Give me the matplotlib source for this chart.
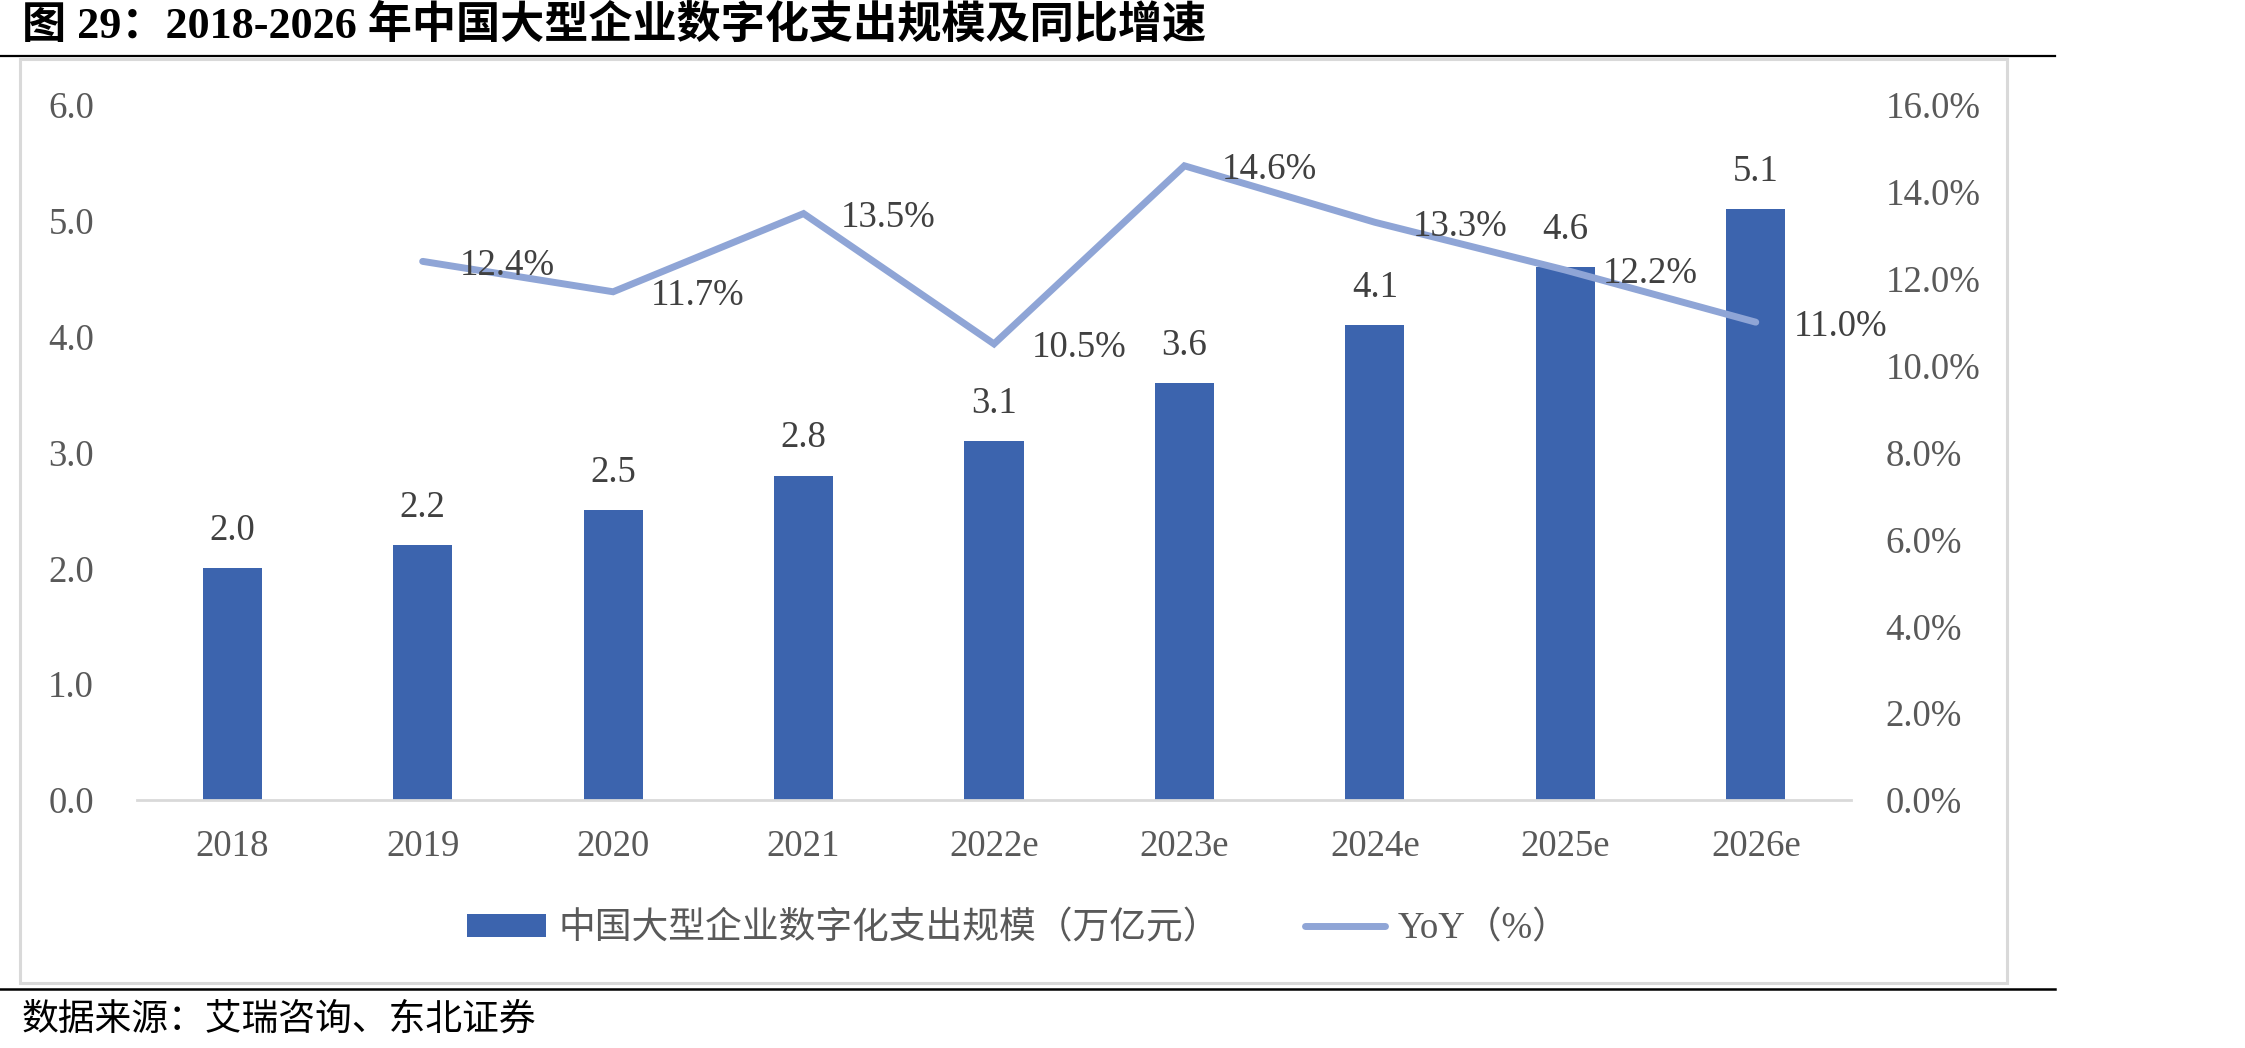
import matplotlib
matplotlib.use('Agg')
from matplotlib import pyplot as plt
from matplotlib.patches import Rectangle, Patch
from matplotlib.lines import Line2D

years = ['2018', '2019', '2020', '2021', '2022e', '2023e', '2024e', '2025e', '2026e']
spend = [2.0, 2.2, 2.5, 2.8, 3.1, 3.6, 4.1, 4.6, 5.1]
yoy_years = years[1:]
yoy = [12.4, 11.7, 13.5, 10.5, 14.6, 13.3, 12.2, 11.0]

title = '图 29：2018-2026 年中国大型企业数字化支出规模及同比增速'
source = '数据来源：艾瑞咨询、东北证券'
bar_label = '中国大型企业数字化支出规模（万亿元）'
line_label = 'YoY（%）'

fams = ['Liberation Serif', 'Noto Sans CJK SC']
plt.rcParams['font.family'] = fams

bar_color = '#3C64AE'
line_color = '#8FA5D6'
tick_color = '#595959'
label_color = '#404040'
fs = 26.5

fig = plt.figure(figsize=(22.45, 10.48), dpi=100)
W, H = 2245.0, 1048.0

# frame lines and panel box
fig.add_artist(Line2D([0, 2055 / W], [1 - 56 / H] * 2, color='black', lw=1.6))
fig.add_artist(Line2D([0, 2055 / W], [1 - 989 / H] * 2, color='black', lw=1.8))
fig.add_artist(Rectangle((20 / W, 1 - 983 / H), (2007 - 20) / W, (983 - 59) / H,
                         fill=False, edgecolor='#d9d9d9', lw=2.2))

fig.text(22 / W, 1 - 26 / H, title, fontsize=31.8, fontweight='bold', color='black',
         ha='left', va='center')
fig.text(22 / W, 1 - 1020 / H, source, fontsize=fs, color='black', ha='left', va='center')

ax = fig.add_axes([137 / W, 1 - 800 / H, (1851 - 137) / W, (800 - 105) / H])
x = list(range(len(years)))
ax.bar(x, spend, width=0.31, color=bar_color, zorder=2)
ax.set_xlim(-0.5, len(years) - 0.5)
ax.set_ylim(0, 6)
ax.set_yticks([0, 1, 2, 3, 4, 5, 6])
ax.set_yticklabels(['%.1f' % v for v in ax.get_yticks()])
ax.set_xticks(x)
ax.set_xticklabels(years)
for s in ['top', 'right', 'left']:
    ax.spines[s].set_visible(False)
ax.spines['bottom'].set_color('#d9d9d9')
ax.spines['bottom'].set_linewidth(2)
ax.tick_params(axis='y', length=0, pad=31, labelsize=fs, labelcolor=tick_color)
ax.tick_params(axis='x', length=0, pad=21, labelsize=fs, labelcolor=tick_color)
for xi, v in zip(x, spend):
    ax.annotate('%.1f' % v, (xi, v), xytext=(0, 27), textcoords='offset points',
                ha='center', va='center', fontsize=fs, color=label_color)

ax2 = ax.twinx()
xl = [years.index(y) for y in yoy_years]
ax2.plot(xl, yoy, color=line_color, lw=5, solid_capstyle='round',
         solid_joinstyle='miter', zorder=3)
ax2.set_ylim(0, 16)
ax2.set_yticks(range(0, 17, 2))
ax2.set_yticklabels(['%.1f%%' % v for v in range(0, 17, 2)])
for s in ['top', 'right', 'left', 'bottom']:
    ax2.spines[s].set_visible(False)
ax2.tick_params(axis='y', length=0, pad=25, labelsize=fs, labelcolor=tick_color)
for xi, v in zip(xl, yoy):
    ax2.annotate('%.1f%%' % v, (xi, v), xytext=(27, -3), textcoords='offset points',
                 ha='left', va='center', fontsize=fs, color=label_color)

handles = [Patch(facecolor=bar_color, edgecolor='none', label=bar_label),
           Line2D([], [], color=line_color, lw=5, solid_capstyle='round', label=line_label)]
fig.legend(handles=handles, loc='center', bbox_to_anchor=(1018 / W, 1 - 929 / H), ncol=2,
           frameon=False, fontsize=fs, labelcolor=tick_color, handlelength=2.16,
           handleheight=0.55, handletextpad=0.35, columnspacing=2.3)

fig.savefig('out.png', dpi=100)
